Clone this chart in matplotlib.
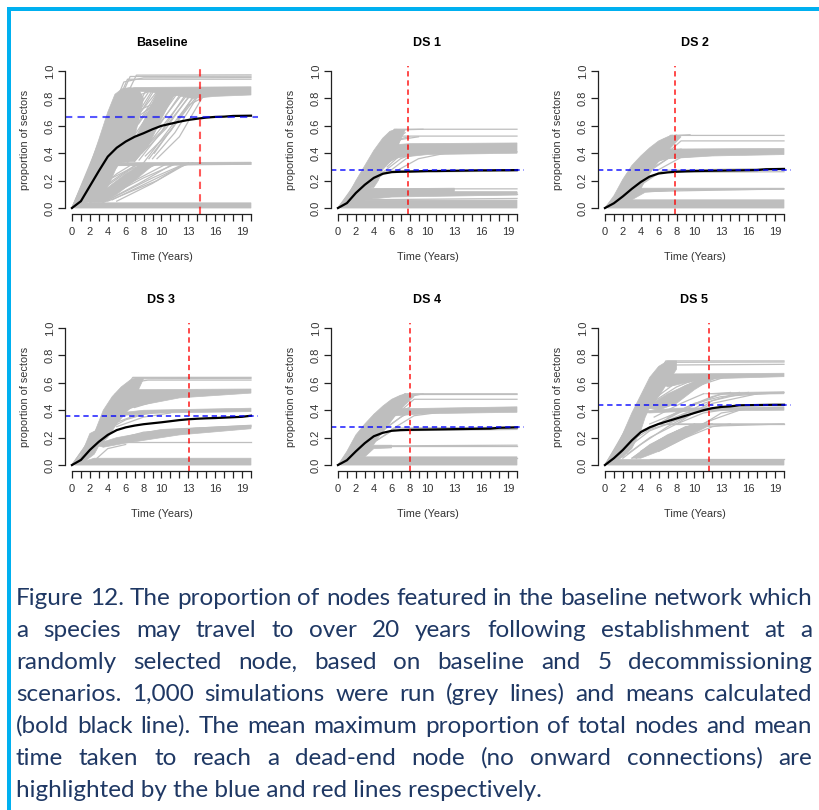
import matplotlib
matplotlib.use("Agg")
import matplotlib.pyplot as plt
from matplotlib.patches import Rectangle

# ---- data ----
years = list(range(21))
x_labelled = [0, 2, 4, 6, 8, 10, 13, 16, 19]
y_ticks = [0.0, 0.2, 0.4, 0.6, 0.8, 1.0]
titles = ["Baseline", "DS 1", "DS 2", "DS 3", "DS 4", "DS 5"]

# mean proportion (bold black line), one value per year 0..20
baseline_mean = [0, 0.05, 0.16, 0.27, 0.375, 0.44, 0.485, 0.52, 0.546, 0.575, 0.60,
                 0.615, 0.63, 0.643, 0.652, 0.66, 0.665, 0.667, 0.672, 0.673, 0.674]
ds1_mean = [0, 0.036, 0.11, 0.17, 0.22, 0.25, 0.262, 0.265, 0.266, 0.268, 0.27,
            0.27, 0.271, 0.272, 0.273, 0.274, 0.275, 0.275, 0.276, 0.276, 0.277]
ds2_mean = [0, 0.035, 0.085, 0.14, 0.19, 0.23, 0.252, 0.26, 0.265, 0.268, 0.27,
            0.271, 0.272, 0.273, 0.274, 0.275, 0.276, 0.277, 0.283, 0.284, 0.285]
ds3_mean = [0, 0.037, 0.11, 0.17, 0.22, 0.255, 0.275, 0.288, 0.298, 0.305, 0.312,
            0.32, 0.328, 0.334, 0.338, 0.341, 0.343, 0.346, 0.349, 0.352, 0.36]
ds4_mean = [0, 0.035, 0.10, 0.16, 0.21, 0.235, 0.25, 0.255, 0.257, 0.258, 0.259,
            0.26, 0.261, 0.262, 0.263, 0.264, 0.265, 0.266, 0.272, 0.273, 0.275]
ds5_mean = [0, 0.05, 0.11, 0.18, 0.24, 0.275, 0.30, 0.32, 0.34, 0.36, 0.38,
            0.40, 0.415, 0.424, 0.428, 0.436, 0.437, 0.438, 0.439, 0.44, 0.44]

# mean maximum proportion (blue) and mean time to dead-end (red)
max_prop = [0.667, 0.275, 0.28, 0.355, 0.275, 0.436]
dead_end = [14.35, 7.85, 7.85, 13.1, 8.05, 11.6]

# grey simulations: dense areas as (t, y, t, y, ...) outlines
baseline_fill = [
    (0.3, 0, 20, 0, 20, 0.038, 1.5, 0.038, 0.8, 0.02),
    (0, 0, 1, 0.13, 2, 0.31, 3, 0.5, 4, 0.7, 4.8, 0.83, 5.6, 0.87, 6.5, 0.88, 7.5, 0.86,
     8, 0.8, 7.5, 0.65, 7, 0.52, 6.5, 0.42, 6, 0.36, 5, 0.3, 4.2, 0.18, 3.5, 0.1,
     2.8, 0.05, 1.5, 0.04, 1, 0.02),
    (5, 0.33, 7, 0.5, 8.5, 0.7, 9.5, 0.84, 11.5, 0.84, 10, 0.65, 8.5, 0.45, 7, 0.34),
    (2, 0.04, 4, 0.15, 6, 0.25, 7.5, 0.31, 9, 0.31, 7, 0.2, 5, 0.1, 3.5, 0.04),
    (5.6, 0.86, 7, 0.88, 20, 0.885, 20, 0.825, 16, 0.815, 13.5, 0.80, 11, 0.83, 8, 0.85),
    (3.2, 0.31, 20, 0.32, 20, 0.335, 3.5, 0.33),
]
ds1_fill = [
    (0.3, 0, 20, 0, 20, 0.058, 1.2, 0.058, 0.7, 0.03),
    (1.0, 0.05, 2.5, 0.14, 13, 0.145, 13, 0.12, 20, 0.12, 20, 0.095, 6, 0.08, 2.5, 0.058),
    (0, 0, 1, 0.08, 2, 0.2, 3, 0.31, 4, 0.42, 5, 0.51, 5.8, 0.56, 6.5, 0.575, 7.5, 0.57,
     7, 0.5, 6.5, 0.42, 6, 0.35, 5, 0.28, 4.5, 0.2, 4, 0.15, 3, 0.14, 2, 0.06, 1, 0.02),
    (4.5, 0.40, 6, 0.46, 8, 0.47, 20, 0.475, 20, 0.40, 10, 0.39, 7, 0.37, 5.5, 0.35),
]
ds2_fill = [
    (0.3, 0, 20, 0, 20, 0.06, 1.2, 0.06, 0.7, 0.03),
    (1.2, 0.06, 2.6, 0.13, 3.2, 0.145, 20, 0.145, 20, 0.135, 8, 0.13, 4.5, 0.115, 3, 0.06),
    (0, 0, 1, 0.09, 2, 0.21, 3, 0.31, 4, 0.38, 5, 0.44, 6, 0.49, 7, 0.52, 8, 0.535,
     8.5, 0.52, 7.5, 0.45, 6.5, 0.38, 5.5, 0.3, 4.5, 0.2, 4, 0.14, 3, 0.12, 2, 0.06, 1, 0.02),
    (4.2, 0.38, 5.5, 0.43, 20, 0.435, 20, 0.39, 12, 0.38, 7, 0.36, 5, 0.33),
]
ds3_fill = [
    (0.3, 0, 20, 0, 20, 0.05, 2.5, 0.05, 1, 0.02),
    (0, 0, 1, 0.07, 2, 0.23, 2.6, 0.25, 3.5, 0.4, 4.5, 0.5, 5.5, 0.57, 6.5, 0.62, 7.2, 0.64,
     8, 0.63, 7.5, 0.56, 7, 0.45, 6, 0.38, 5, 0.3, 4, 0.2, 3, 0.14, 2.5, 0.08, 1.5, 0.03),
    (4.8, 0.52, 6, 0.55, 20, 0.555, 20, 0.525, 12, 0.49, 8, 0.44, 5.5, 0.40),
    (3.8, 0.37, 8, 0.40, 20, 0.415, 20, 0.39, 10, 0.38, 5, 0.36),
    (2.5, 0.15, 5, 0.2, 10, 0.26, 20, 0.29, 20, 0.265, 12, 0.22, 6, 0.16, 3.5, 0.13),
]
ds4_fill = [
    (0.3, 0, 20, 0, 20, 0.06, 1, 0.06, 0.6, 0.03),
    (1.5, 0.06, 2.5, 0.12, 3.2, 0.145, 6, 0.145, 6, 0.125, 4, 0.12, 3, 0.06),
    (0, 0, 1, 0.1, 2, 0.22, 3, 0.3, 4, 0.37, 5, 0.43, 6, 0.48, 7, 0.51, 8, 0.52,
     8.5, 0.5, 7.5, 0.44, 6.5, 0.37, 5.5, 0.28, 4.5, 0.2, 4, 0.15, 3, 0.13, 2, 0.06, 1, 0.02),
    (4, 0.37, 6, 0.41, 20, 0.425, 20, 0.385, 10, 0.375, 6.5, 0.36),
]
ds5_fill = [
    (0.3, 0, 20, 0, 20, 0.04, 1, 0.04, 0.6, 0.02),
    (0, 0, 1, 0.1, 2, 0.23, 3, 0.38, 4, 0.51, 5, 0.64, 6, 0.72, 7, 0.76, 8, 0.76,
     8, 0.7, 7, 0.6, 6, 0.5, 5, 0.42, 4.5, 0.35, 4, 0.25, 3, 0.12, 2, 0.06, 1, 0.02),
    (5.5, 0.64, 7, 0.665, 20, 0.67, 20, 0.645, 12, 0.63, 9, 0.6, 7, 0.57),
    (4.5, 0.42, 7, 0.52, 9, 0.58, 11, 0.64, 12.5, 0.65, 10, 0.55, 8, 0.45, 6, 0.4),
    (3, 0.05, 5, 0.15, 8, 0.25, 10, 0.3, 12, 0.3, 9, 0.2, 6, 0.1, 4, 0.05),
    (3.5, 0.39, 8, 0.415, 20, 0.425, 20, 0.40, 10, 0.395, 5, 0.38),
    (11, 0.52, 14, 0.53, 20, 0.535, 20, 0.52, 14, 0.515),
]

# grey simulations: single runs as (t, y, t, y, ...)
baseline_runs = [
    (0, 0, 6.2, 0.94, 20, 0.94), (0, 0, 6.5, 0.96, 20, 0.962), (0, 0, 7.2, 0.97, 20, 0.972),
    (0, 0, 5.8, 0.92, 8, 0.95, 20, 0.952),
    (3.6, 0.33, 7.5, 0.84), (4.0, 0.33, 8.2, 0.85), (4.3, 0.34, 9.0, 0.84), (4.6, 0.33, 9.6, 0.85),
    (5.0, 0.34, 10.2, 0.84), (5.4, 0.33, 10.8, 0.85), (5.8, 0.34, 11.3, 0.83), (6.2, 0.33, 11.8, 0.84),
    (6.6, 0.35, 12.3, 0.83), (7.0, 0.34, 12.8, 0.82), (7.5, 0.35, 13.2, 0.82), (8.0, 0.33, 13.6, 0.81),
    (8.6, 0.36, 14.0, 0.82), (9.2, 0.40, 13.0, 0.75, 15, 0.82), (4.5, 0.45, 8.5, 0.84),
    (5.2, 0.5, 9.5, 0.85), (6.0, 0.55, 11.0, 0.84), (4.0, 0.55, 6.5, 0.80, 9, 0.86),
    (6.5, 0.62, 10, 0.80, 12.5, 0.84), (7.0, 0.7, 11.5, 0.83),
    (3.8, 0.36, 6.5, 0.6, 8.8, 0.84), (4.2, 0.38, 7.5, 0.62, 9.8, 0.84), (5.5, 0.4, 8.5, 0.62, 10.5, 0.83),
    (6.0, 0.38, 9, 0.6, 11.5, 0.83), (6.8, 0.4, 9.5, 0.58, 12, 0.82), (7.2, 0.38, 10, 0.56, 12.6, 0.82),
    (7.8, 0.4, 10.5, 0.58, 13, 0.81), (8.2, 0.38, 11, 0.56, 13.5, 0.81), (9, 0.36, 11.5, 0.55, 14, 0.81),
    (9.5, 0.36, 12, 0.52, 14.5, 0.8),
    (1.5, 0.04, 4.5, 0.2, 7, 0.31), (2.0, 0.04, 6, 0.2, 9, 0.31), (2.5, 0.05, 7, 0.2, 10.5, 0.32),
    (3.0, 0.05, 8, 0.22, 11.5, 0.32), (3.5, 0.04, 9, 0.22, 12.5, 0.32), (4.0, 0.05, 9.5, 0.2, 13.0, 0.33),
    (2.2, 0.1, 5, 0.25, 6.5, 0.31), (3, 0.12, 6.5, 0.28, 8, 0.32),
    (4.5, 0.06, 10.5, 0.25, 12.0, 0.3, 13.5, 0.33), (1.8, 0.06, 3.5, 0.17, 5, 0.3),
    (1.2, 0.04, 3, 0.15, 5, 0.3), (2.8, 0.06, 5.5, 0.18, 8, 0.3), (3.2, 0.07, 7, 0.25, 9.5, 0.32),
    (3.8, 0.05, 7.5, 0.18, 11, 0.31), (5, 0.05, 9, 0.18, 12, 0.3), (2.5, 0.12, 4.5, 0.22, 7.5, 0.32),
    (2, 0.15, 3.5, 0.25, 4.5, 0.31),
    (0, 0, 3.3, 0.32, 20, 0.33), (0, 0, 4.0, 0.31, 20, 0.32),
]
ds1_runs = [
    (0, 0, 6.3, 0.575, 20, 0.575), (0, 0, 6.8, 0.57, 9.5, 0.575), (0, 0, 6.5, 0.525, 20, 0.525),
    (0, 0, 7, 0.5, 9, 0.52), (4.5, 0.27, 6.5, 0.38, 8, 0.42), (5, 0.26, 7, 0.36, 8.5, 0.4),
    (3.5, 0.25, 5.5, 0.33, 7, 0.38), (4, 0.3, 5.5, 0.46, 6.5, 0.5, 8, 0.52),
    (4.8, 0.3, 6.2, 0.42, 7.5, 0.45), (5.5, 0.3, 7.2, 0.4, 9, 0.43), (6, 0.28, 8, 0.38, 10, 0.41),
    (6.5, 0.27, 9, 0.36, 12, 0.4), (5.2, 0.4, 6.5, 0.5, 7.5, 0.55), (4.5, 0.4, 5.8, 0.52, 7, 0.57),
    (0, 0, 5.5, 0.27, 20, 0.275), (0, 0, 4.5, 0.26, 20, 0.27), (13, 0.4, 20, 0.41),
    (0, 0, 3, 0.14, 20, 0.14), (2, 0.1, 20, 0.11), (2.5, 0.1, 20, 0.10), (1.5, 0.06, 20, 0.07),
]
ds2_runs = [
    (0, 0, 7.3, 0.53, 20, 0.53), (0, 0, 6.5, 0.5, 8.2, 0.53, 9.5, 0.535), (0, 0, 8.5, 0.49, 20, 0.49),
    (4.5, 0.3, 6.5, 0.4, 8.5, 0.43), (5, 0.27, 7, 0.36, 9, 0.4), (4, 0.25, 5.5, 0.33, 7.5, 0.38),
    (5.5, 0.3, 7.5, 0.38, 10, 0.4), (6, 0.28, 8.5, 0.37, 12, 0.39), (5, 0.4, 6.5, 0.46, 8, 0.5),
    (4.5, 0.38, 6, 0.47, 7.5, 0.53), (3, 0.12, 4, 0.14),
    (0, 0, 6, 0.26, 20, 0.265), (0, 0, 6.5, 0.275, 20, 0.29), (4, 0.12, 20, 0.14),
]
ds3_runs = [
    (0, 0, 6.8, 0.64, 20, 0.64), (0, 0, 7.3, 0.63, 20, 0.632), (0, 0, 6.5, 0.6, 8.5, 0.62, 20, 0.62),
    (3.5, 0.17, 20, 0.17), (4.5, 0.3, 7, 0.36, 9, 0.38), (5, 0.28, 8, 0.35, 11, 0.38),
    (4, 0.26, 6, 0.33, 8, 0.37), (5.5, 0.42, 8, 0.5, 11, 0.54), (6.5, 0.45, 10, 0.52, 14, 0.545),
    (5, 0.38, 7, 0.46, 10, 0.52), (6, 0.4, 9, 0.48, 13, 0.53), (7, 0.42, 11, 0.5, 16, 0.54),
    (4.5, 0.45, 6, 0.52, 7, 0.55),
    (3, 0.14, 6, 0.2, 10, 0.25, 20, 0.28), (3.5, 0.16, 8, 0.24, 14, 0.27, 20, 0.29),
    (2.8, 0.05, 4, 0.12, 6, 0.15),
]
ds4_runs = [
    (0, 0, 7.5, 0.52, 20, 0.52), (0, 0, 8, 0.515, 20, 0.515), (0, 0, 6.5, 0.48, 9.5, 0.52),
    (0, 0, 8.5, 0.48, 20, 0.48), (6, 0.14, 20, 0.14), (4, 0.05, 20, 0.05),
    (4.5, 0.28, 6.5, 0.38, 8, 0.42), (5, 0.25, 7, 0.35, 8.5, 0.4), (3.5, 0.25, 5, 0.33, 6.5, 0.38),
    (5.5, 0.28, 7.5, 0.37, 10, 0.4), (6, 0.26, 8.5, 0.36, 12, 0.39), (5, 0.4, 6.5, 0.46, 8, 0.5),
    (4.5, 0.38, 6, 0.47, 7.5, 0.52), (3, 0.12, 5, 0.14, 20, 0.145),
    (0, 0, 6, 0.25, 20, 0.26), (0, 0, 6.5, 0.27, 18, 0.275, 20, 0.28),
]
ds5_runs = [
    (0, 0, 6.8, 0.76, 20, 0.76), (0, 0, 7.5, 0.75, 20, 0.752), (0, 0, 7, 0.73, 20, 0.735),
    (4.2, 0.42, 7.5, 0.58, 10, 0.66), (4.6, 0.43, 8, 0.57, 11, 0.65), (5, 0.42, 9, 0.58, 12, 0.65),
    (5.5, 0.42, 9.5, 0.56, 13, 0.65), (6, 0.43, 10, 0.57, 14, 0.655), (4, 0.45, 6, 0.6, 8, 0.66),
    (5.5, 0.5, 7, 0.6, 9, 0.65),
    (6, 0.3, 9, 0.42, 12, 0.5, 14, 0.53), (6.5, 0.32, 10, 0.44, 13, 0.52), (7, 0.3, 11, 0.45, 15, 0.53),
    (5.5, 0.35, 8.5, 0.45, 11, 0.52), (8, 0.3, 12, 0.47, 16, 0.53),
    (7, 0.35, 10, 0.45, 13, 0.5, 20, 0.53), (9, 0.35, 12, 0.45, 17, 0.52),
    (3, 0.05, 6, 0.18, 9, 0.28, 12, 0.3), (3.5, 0.05, 7, 0.2, 10, 0.28, 20, 0.3),
    (4, 0.06, 8, 0.2, 11, 0.3, 13, 0.38, 16, 0.41), (2.5, 0.08, 5, 0.2, 8, 0.3, 11, 0.38, 14, 0.41),
    (5, 0.1, 9, 0.25, 12, 0.33, 15, 0.4), (3, 0.15, 5, 0.25, 7, 0.3, 20, 0.3),
    (4.5, 0.25, 7, 0.3, 10, 0.38, 13, 0.42), (6, 0.3, 20, 0.3), (2, 0.12, 4, 0.25, 6, 0.3),
    (2, 0.05, 4, 0.15, 7, 0.28, 9, 0.35), (4, 0.1, 7, 0.22, 10, 0.3), (6, 0.1, 9, 0.2, 12, 0.28, 14, 0.3),
    (3.5, 0.2, 6, 0.3, 9, 0.38, 11, 0.4), (5, 0.3, 8, 0.38, 10, 0.41),
    (5, 0.045, 20, 0.045),
]

caption = [
    "Figure 12. The proportion of nodes featured in the baseline network which",
    "a species may travel to over 20 years following establishment at a",
    "randomly selected node, based on baseline and 5 decommissioning",
    "scenarios. 1,000 simulations were run (grey lines) and means calculated",
    "(bold black line). The mean maximum proportion of total nodes and mean",
    "time taken to reach a dead-end node (no onward connections) are",
    "highlighted by the blue and red lines respectively.",
]

means = [baseline_mean, ds1_mean, ds2_mean, ds3_mean, ds4_mean, ds5_mean]
fills = [baseline_fill, ds1_fill, ds2_fill, ds3_fill, ds4_fill, ds5_fill]
runs = [baseline_runs, ds1_runs, ds2_runs, ds3_runs, ds4_runs, ds5_runs]

GREY = "#BEBEBE"
INK = "#222222"
W, H = 819, 810

plt.rcParams["font.family"] = ["Liberation Sans", "DejaVu Sans"]
fig = plt.figure(figsize=(W / 100, H / 100), dpi=100)

lefts = [0.0791, 0.4039, 0.7299]
bottoms = [0.7364, 0.4191]

for i in range(6):
    ax = fig.add_axes([lefts[i % 3], bottoms[i // 3], 0.2361, 0.1827])
    for poly in fills[i]:
        ax.fill(poly[0::2], poly[1::2], color=GREY, lw=0.5)
    for run in runs[i]:
        ax.plot(run[0::2], run[1::2], color=GREY, lw=0.9)
    ax.plot(years, means[i], color="black", lw=1.6)
    lw = 1.5 if i == 0 else 1.1
    alpha = 0.65 if i == 0 else 0.9
    ax.axhline(max_prop[i], color="blue", lw=lw, alpha=alpha, ls=(0, (3.5, 2.5)))
    ax.axvline(dead_end[i], color="red", lw=lw, alpha=alpha, ls=(0, (3.5, 2.5)))

    ax.set_xlim(-0.8, 20.8)
    ax.set_ylim(-0.04, 1.04)
    ax.spines["top"].set_visible(False)
    ax.spines["right"].set_visible(False)
    ax.spines["left"].set_bounds(0, 1)
    ax.spines["bottom"].set_bounds(0, 20)
    for s in ("left", "bottom"):
        ax.spines[s].set_color(INK)
        ax.spines[s].set_linewidth(0.9)
    ax.set_xticks(years)
    ax.set_xticklabels([str(y) if y in x_labelled else "" for y in years])
    ax.set_yticks(y_ticks)
    ax.set_yticklabels(["%.1f" % v for v in y_ticks])
    ax.tick_params(axis="both", length=5, width=0.9, color=INK, labelsize=8,
                   labelcolor="#333333")
    ax.tick_params(axis="x", pad=5)
    ax.tick_params(axis="y", pad=2, labelrotation=90)
    for lbl in ax.get_yticklabels():
        lbl.set_va("center")

    ax.set_xlabel("Time (Years)", fontsize=7.8, color="#333333", va="center")
    ax.xaxis.set_label_coords(0.5, -0.294)
    ax.set_ylabel("proportion of sectors", fontsize=7.8, color="#333333", va="center")
    ax.yaxis.set_label_coords(-0.206, 0.5)
    ax.text(0.5, 1.15, titles[i], transform=ax.transAxes, ha="center", va="center",
            fontsize=9, fontweight="bold", color="black")

# cyan frame
frame = "#00B0F0"
fig.add_artist(Rectangle((7 / W, 0), 4 / W, (H - 7) / H, transform=fig.transFigure,
                         color=frame, lw=0))
fig.add_artist(Rectangle((7 / W, (H - 11) / H), (W - 7) / W, 4 / H, transform=fig.transFigure,
                         color=frame, lw=0))

# caption, justified like the document text
renderer = fig.canvas.get_renderer()
cap_font = ["Lato", "DejaVu Sans"]
cap_color = "#1F3864"
x_left, x_right = 16, 812
probe = fig.text(0, 0, caption[0], fontsize=20, family=cap_font)
size = 20 * (x_right - x_left) / probe.get_window_extent(renderer).width
probe.remove()

for k, line in enumerate(caption):
    yb = (H - (605 + 32 * k)) / H
    if k == len(caption) - 1:
        fig.text(x_left / W, yb, line, fontsize=size, family=cap_font, color=cap_color,
                 va="baseline")
        continue
    words = line.split()
    texts = [fig.text(0, yb, w, fontsize=size, family=cap_font, color=cap_color,
                      va="baseline") for w in words]
    widths = [t.get_window_extent(renderer).width for t in texts]
    gap = (x_right - x_left - sum(widths)) / (len(words) - 1)
    x = x_left
    for t, w in zip(texts, widths):
        t.set_x(x / W)
        x += w + gap

fig.savefig("out.png", dpi=100)
